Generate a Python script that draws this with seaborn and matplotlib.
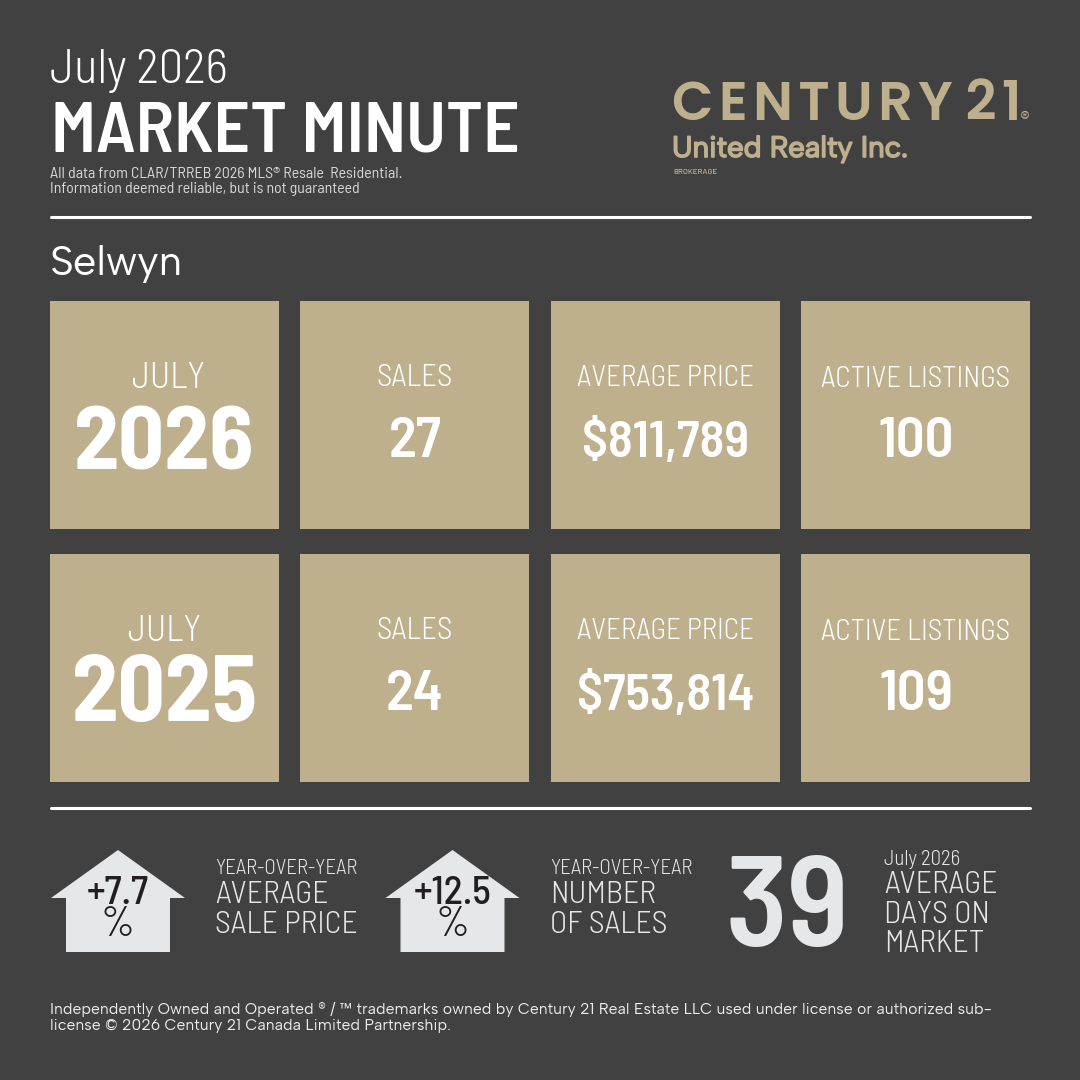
import matplotlib
matplotlib.use("Agg")
import matplotlib.pyplot as plt
import matplotlib.patheffects as pe
import seaborn as sns

BG = "#414141"
GOLD = "#BEB08D"
PALE = "#E6E7E8"
DARK = "#231F20"

sns.set_theme(style="white")

# Values
months = ["JULY", "JULY"]
years = ["2026", "2025"]
sales = ["27", "24"]
avg_price = ["$811,789", "$753,814"]
listings = ["100", "109"]
tile_heads = ["PERIOD", "SALES", "AVERAGE PRICE", "ACTIVE LISTINGS"]
price_change = "+7.7"
sales_change = "+12.5"
days_on_market = "39"

COND = "Barlow Condensed"
SEMI = "Barlow Semi Condensed"
BAR = "Barlow"
GEO = "Albert Sans"
LOGO = "Poppins"

fig = plt.figure(figsize=(10.8, 10.8), dpi=100, facecolor=BG)


def box(left, top, w, h):
    return [left / 1080, 1 - (top + h) / 1080, w / 1080, h / 1080]


# gold tiles, one row of bars per year
for top in [301, 554]:
    bar_ax = fig.add_axes(box(50, top, 980, 228))
    sns.barplot(x=tile_heads, y=[1, 1, 1, 1], color=GOLD, saturation=1, width=0.9148,
                linewidth=0, ax=bar_ax)
    bar_ax.set_xlim(-0.4574, 3.4574)
    bar_ax.set_ylim(0, 1)
    bar_ax.axis("off")

# everything else sits on a page axes in pixel coordinates
ax = fig.add_axes([0, 0, 1, 1], zorder=5)
ax.set_xlim(0, 1080)
ax.set_ylim(1080, 0)
ax.axis("off")


def put(x, y, s, size, family, weight=400, color="white", ha="left", stroke=0):
    t = ax.text(x, y, s, fontsize=size, family=[family, "DejaVu Sans"], weight=weight,
                color=color, ha=ha, va="baseline")
    if stroke:
        t.set_path_effects([pe.withStroke(linewidth=stroke, foreground=color)])
    return t


# header
put(50, 83, "July 2026", 35, SEMI, 300)
put(51, 151, "MARKET MINUTE", 51.6, SEMI, 600)
put(50, 178, "All data from CLAR/TRREB 2026 MLS® Resale  Residential.", 11.45, SEMI, 400, "#D8D8D8")
put(50, 193, "Information deemed reliable, but is not guaranteed", 11.4, SEMI, 400, "#D8D8D8")
put(50, 275, "Selwyn", 30, GEO)

# logo, hair spaces stand in for the wide tracking
put(672, 120, "\u200a".join("CENTURY") + " " + "\u200a".join("21"), 39, LOGO, 600, GOLD)
put(1020, 124.5, "®", 14, GEO, 400, GOLD)
put(672, 157, "United Realty Inc.", 21.2, GEO, 400, GOLD, stroke=1.2)
put(673, 174, "BROKERAGE", 5.8, BAR, 500, GOLD)

# rules
for rule_y in [217, 808]:
    ax.plot([50.5, 1029.5], [rule_y, rule_y], color="white", lw=2.2, solid_capstyle="round")

# tile text
centers = [164.5, 415, 665.5, 916]
july_x = [168, 164]
for row, top in enumerate([301, 554]):
    put(july_x[row], top + 87, months[row], 26, SEMI, 300, ha="center")
    put(centers[0], top + 168 - row, years[row], 65 + 2 * row, SEMI, 700, ha="center")
    put(centers[1], top + 85, tile_heads[1], 22.2, SEMI, 300, ha="center")
    put(centers[2], top + 85, tile_heads[2], 21, SEMI, 300, ha="center")
    put(centers[3], top + 86, tile_heads[3], 21, SEMI, 300, ha="center")
    put(centers[1], top + 156, sales[row], 41, SEMI, 600, ha="center")
    put(centers[2], top + 156, avg_price[row], 37, SEMI, 600, ha="center")
    put(centers[3], top + 156, listings[row], 41, SEMI, 600, ha="center")


# house badges
def house(cx):
    ax.fill([cx, cx + 67, cx + 52, cx + 52, cx - 52, cx - 52, cx - 67],
            [850, 898, 898, 952, 952, 898, 898], color=PALE, lw=0)


for cx, change in [(118, price_change), (452.5, sales_change)]:
    house(cx)
    put(cx, 904, change, 28.5, SEMI, 500, DARK, ha="center")
    put(cx - 0.5, 936, "%", 30, SEMI, 400, DARK, ha="center")

# bottom labels
for x, l1, l2 in [(215, "AVERAGE", "SALE PRICE"), (550, "NUMBER", "OF SALES")]:
    put(x, 874, "YEAR-OVER-YEAR", 15.1, SEMI, 300, PALE)
    put(x, 903, l1, 22.9, SEMI, 300, PALE)
    put(x, 933, l2, 22.9, SEMI, 300, PALE)

put(787, 946, days_on_market, 93, SEMI, 600, PALE, ha="center")
put(884, 865, "July 2026", 15, SEMI, 300, PALE)
put(884, 893, "AVERAGE", 22.9, SEMI, 300, PALE)
put(884, 923, "DAYS ON", 22.9, SEMI, 300, PALE)
put(884, 952, "MARKET", 22.9, SEMI, 300, PALE)

# footer
put(50, 1014, "Independently Owned and Operated ® / ™ trademarks owned by Century 21 Real Estate LLC used under license or authorized sub-", 11.33, GEO, 400, "#EDEDED")
put(50, 1030, "license © 2026 Century 21 Canada Limited Partnership.", 11.33, GEO, 400, "#EDEDED")

fig.savefig("out.png", dpi=100, facecolor=BG)
